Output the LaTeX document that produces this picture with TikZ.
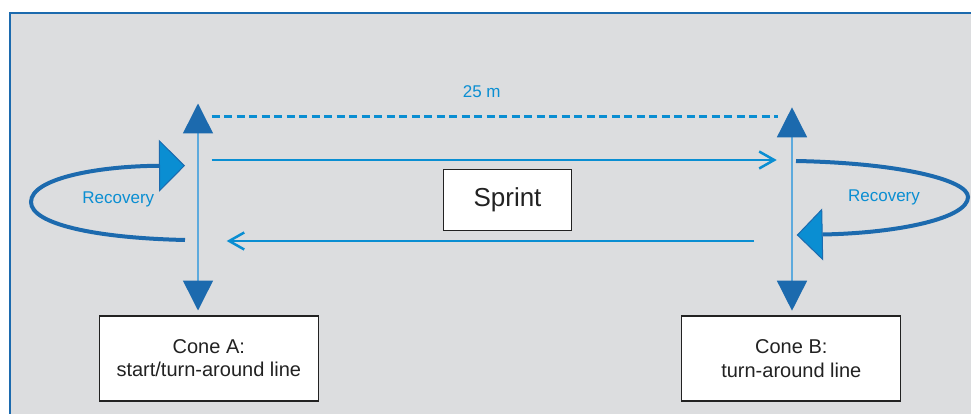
\documentclass[tikz,border=0pt]{standalone}
\usepackage{fontspec}
\setmainfont{Liberation Sans}
\usetikzlibrary{arrows.meta}
\definecolor{sky}{HTML}{0A8ED2}
\definecolor{navy}{HTML}{1C6AAE}
\definecolor{pale}{HTML}{5DAADD}
\definecolor{panel}{HTML}{DCDDDF}
\definecolor{ink}{HTML}{222222}

\begin{document}
\begin{tikzpicture}[x=1pt, y=-1pt,
	box/.style = {draw=ink, fill=white, line width=1.2pt, text=ink, align=center, inner sep=0pt, font=\fontsize{20}{23.3}\selectfont},
	lbl/.style = {text=sky, font=\fontsize{17}{20}\selectfont},
	run/.style = {draw=sky, line width=2.8pt, -{Straight Barb[length=15pt,width=17pt,line width=2.5pt]}},
	cone/.style = {draw=pale, line width=1.5pt, {Triangle[length=30pt,width=30pt,color=navy]}-{Triangle[length=30pt,width=30pt,color=navy]}},
	loop/.style = {draw=navy, line width=4pt, -{Triangle[length=26pt,width=52pt,fill=sky,color=navy,line width=1pt]}}]
	\useasboundingbox (0,0) rectangle (971,414);
	\fill[panel] (10,13) rectangle (980,420);
	\draw[navy, line width=2pt] (980,13) -- (10,13) -- (10,420);

	\coordinate (aTop) at (198,103.5);
	\coordinate (aBot) at (198,310.5);
	\coordinate (bTop) at (792,107.3);
	\coordinate (bBot) at (792,310.7);
	\coordinate (dashA) at (211.7,116.7);
	\coordinate (dashB) at (778,116.7);
	\coordinate (goA) at (211.7,160);
	\coordinate (goB) at (776.7,160);
	\coordinate (backB) at (754,241);
	\coordinate (backA) at (226.7,241);
	\coordinate (loopAin) at (185,240);
	\coordinate (loopAout) at (185,165.7);
	\coordinate (loopBin) at (796,161);
	\coordinate (loopBout) at (796.7,235);

	\node[box, minimum width=219pt, minimum height=85pt] (coneA) at (208.8,358.4) {Cone A:\\start/turn-around line};
	\node[box, minimum width=219pt, minimum height=85pt] (coneB) at (791.3,358.5) {Cone B:\\turn-around line};
	\node[box, minimum width=128pt, minimum height=61pt, font=\fontsize{26}{30}\selectfont] (sprint) at (507.5,199.7) {Sprint};
	\node[lbl] (dist) at (481.7,91.5) {25 m};
	\node[lbl] (recA) at (118.3,199) {Recovery};
	\node[lbl] (recB) at (884,197.3) {Recovery};

	\draw[cone] (aTop) -- (aBot);
	\draw[cone] (bTop) -- (bBot);
	\draw[sky, line width=2.5pt, dash pattern=on 8pt off 4.5pt] (dashA) -- (dashB);
	\draw[run] (goA) -- (goB);
	\draw[run] (backB) -- (backA);
	\draw[loop] (loopAin) .. controls (95,238) and (31,224) .. (31,202) .. controls (31,178) and (100,166) .. (loopAout);
	\draw[loop] (loopBin) .. controls (900,163) and (968,180) .. (968,197) .. controls (968,218) and (900,233) .. (loopBout);
\end{tikzpicture}
\end{document}
